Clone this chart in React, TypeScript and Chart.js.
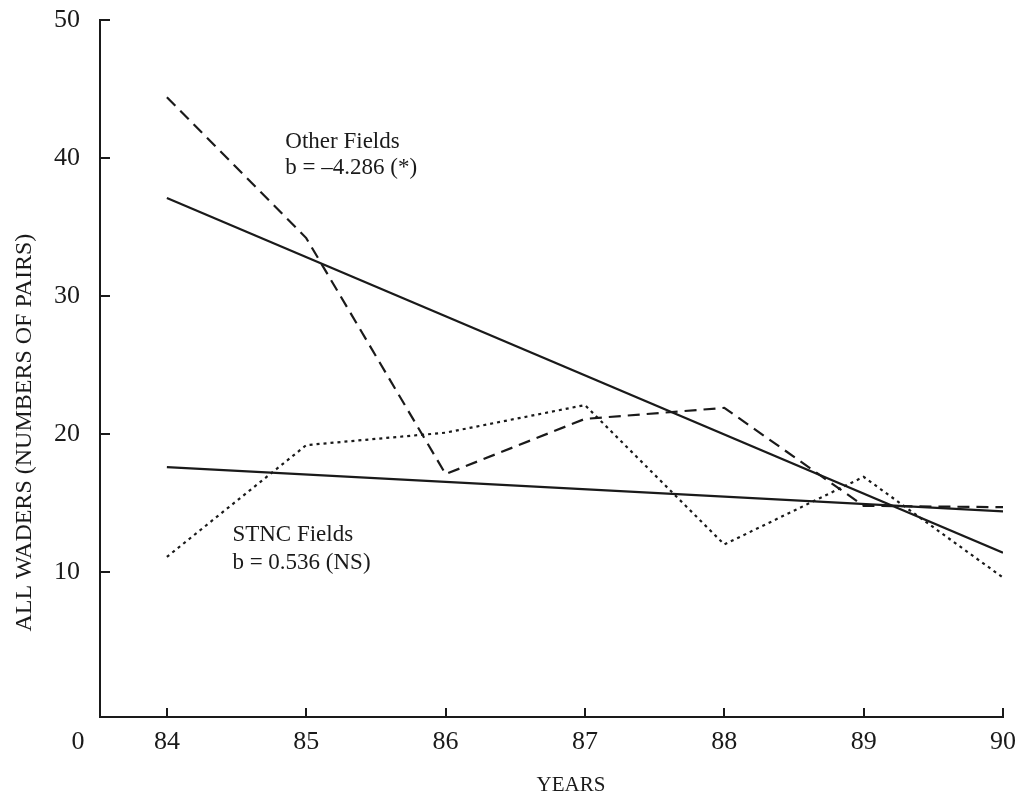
import React, { useEffect, useRef } from "react";
import { Chart, registerables } from "chart.js";

Chart.register(...registerables);

// ---- data ----
const years = [84, 85, 86, 87, 88, 89, 90];
const otherFields = [44.4, 34.2, 17.1, 21.1, 21.9, 14.8, 14.7];
const stncFields = [11.1, 19.2, 20.1, 22.1, 12.0, 16.9, 9.6];
const trendYears = [84, 90];
const otherTrend = [37.1, 11.4];
const stncTrend = [17.6, 14.4];
const yTickValues = [10, 20, 30, 40, 50];
const xTickValues = [84, 85, 86, 87, 88, 89, 90];
const xTitle = "YEARS";
const yTitle = "ALL WADERS (NUMBERS OF PAIRS)";
const originLabel = "0";
const otherNote = ["Other Fields", "b = –4.286 (*)"];
const stncNote = ["STNC Fields", "b = 0.536 (NS)"];

const FONT = "'Liberation Serif', 'Times New Roman', serif";
const INK = "#1a1a1a";

const toPoints = (xs: number[], ys: number[]) => xs.map((x, i) => ({ x, y: ys[i] }));

const decorPlugin = {
  id: "decor",
  afterDraw(chart: any) {
    const { ctx, chartArea } = chart;
    const xs = chart.scales.x;
    const ys = chart.scales.y;
    ctx.save();
    ctx.strokeStyle = INK;
    ctx.lineWidth = 2;
    // inward tick marks
    yTickValues.forEach((v) => {
      const py = Math.round(ys.getPixelForValue(v));
      ctx.beginPath();
      ctx.moveTo(chartArea.left, py);
      ctx.lineTo(chartArea.left + 10, py);
      ctx.stroke();
    });
    xTickValues.forEach((v) => {
      const px = Math.round(xs.getPixelForValue(v));
      ctx.beginPath();
      ctx.moveTo(px, chartArea.bottom);
      ctx.lineTo(px, chartArea.bottom - 9);
      ctx.stroke();
    });

    ctx.fillStyle = INK;
    ctx.textBaseline = "middle";
    // origin label
    ctx.font = `26px ${FONT}`;
    ctx.textAlign = "center";
    ctx.fillText(originLabel, chartArea.left - 22, chartArea.bottom + 25);

    // x title
    ctx.font = `21px ${FONT}`;
    ctx.fillText(xTitle, xs.getPixelForValue(86.9), chartArea.bottom + 68);

    // y title
    ctx.save();
    ctx.translate(25, ys.getPixelForValue(20.1));
    ctx.rotate(-Math.PI / 2);
    ctx.font = `24px ${FONT}`;
    ctx.fillText(yTitle, 0, 0);
    ctx.restore();

    // notes
    ctx.font = `23px ${FONT}`;
    ctx.textAlign = "left";
    const ox = xs.getPixelForValue(84.85);
    const oy = ys.getPixelForValue(41.2);
    ctx.fillText(otherNote[0], ox, oy);
    ctx.fillText(otherNote[1], ox, oy + 26);
    const sx = xs.getPixelForValue(84.47);
    const sy = ys.getPixelForValue(12.7);
    ctx.fillText(stncNote[0], sx, sy);
    ctx.fillText(stncNote[1], sx, sy + 28);
    ctx.restore();
  },
};

export default function App() {
  const ref = useRef<HTMLCanvasElement | null>(null);

  useEffect(() => {
    if (!ref.current) return;
    const lineBase = {
      borderColor: INK,
      borderWidth: 2.2,
      pointRadius: 0,
      fill: false,
      tension: 0,
    };
    const chart = new Chart(ref.current, {
      type: "line",
      data: {
        datasets: [
          { ...lineBase, label: "Other Fields", data: toPoints(years, otherFields), borderDash: [12, 7] },
          { ...lineBase, label: "STNC Fields", data: toPoints(years, stncFields), borderDash: [3, 4] },
          { ...lineBase, label: "Other trend", data: toPoints(trendYears, otherTrend) },
          { ...lineBase, label: "STNC trend", data: toPoints(trendYears, stncTrend) },
        ],
      },
      options: {
        responsive: false,
        animation: false,
        layout: { padding: { left: 0, right: 12, top: 20, bottom: 0 } },
        plugins: { legend: { display: false }, tooltip: { enabled: false } },
        scales: {
          x: {
            type: "linear",
            min: 83.52,
            max: 90,
            grid: { display: false, drawTicks: false },
            border: { display: true, color: INK, width: 2 },
            afterBuildTicks: (s: any) => {
              s.ticks = xTickValues.map((v) => ({ value: v }));
            },
            afterFit: (s: any) => {
              s.height = 79;
              s.paddingLeft = 0;
              s.paddingRight = 0;
            },
            ticks: {
              font: { family: FONT, size: 26 },
              color: INK,
              padding: 10,
              maxRotation: 0,
              autoSkip: false,
              callback: (v: any) => String(v),
            },
          },
          y: {
            type: "linear",
            min: -0.5,
            max: 50,
            grid: { display: false, drawTicks: false },
            border: { display: true, color: INK, width: 2 },
            afterBuildTicks: (s: any) => {
              s.ticks = yTickValues.map((v) => ({ value: v }));
            },
            afterFit: (s: any) => {
              s.width = 100;
              s.paddingTop = 0;
              s.paddingBottom = 0;
            },
            ticks: {
              font: { family: FONT, size: 26 },
              color: INK,
              padding: 20,
              autoSkip: false,
              callback: (v: any) => String(v),
            },
          },
        },
      },
      plugins: [decorPlugin],
    } as any);
    return () => chart.destroy();
  }, []);

  return (
    <div style={{ position: "absolute", left: 0, top: 0, width: 1015, height: 796, background: "#fff" }}>
      <canvas ref={ref} width={1015} height={796} style={{ display: "block" }} />
    </div>
  );
}
